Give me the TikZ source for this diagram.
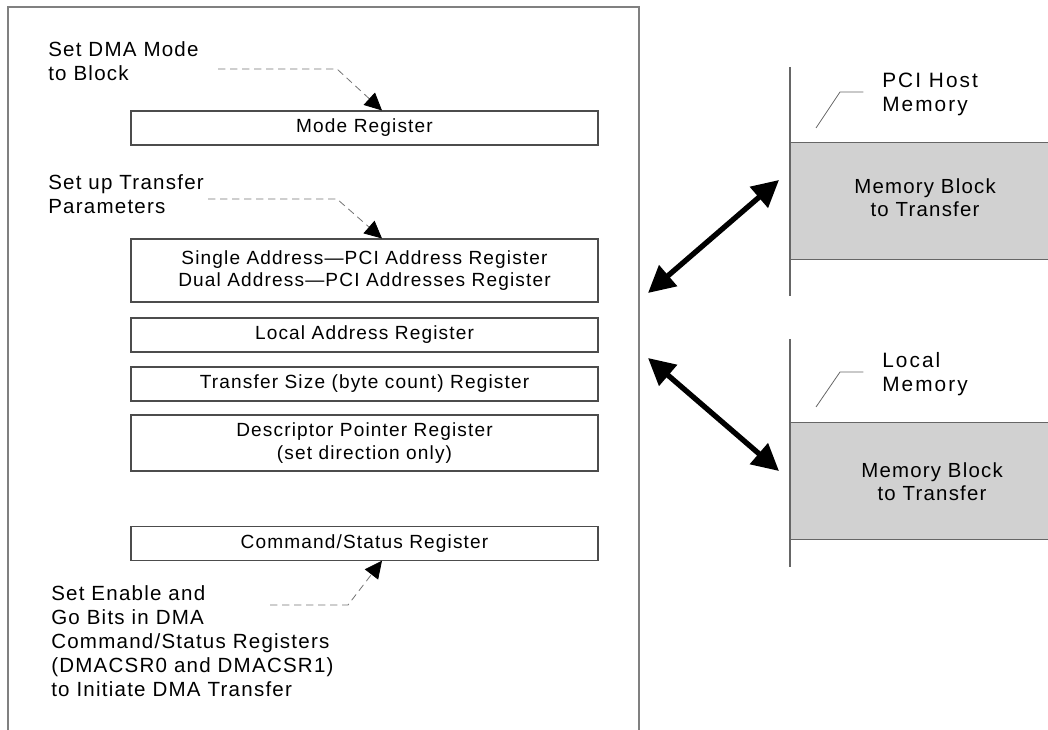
\documentclass[tikz,border=0pt]{standalone}
\usepackage{fontspec}
\setmainfont{Liberation Sans}[LetterSpace=6.0]
\usetikzlibrary{arrows.meta,calc}
\begin{document}
\begin{tikzpicture}[x=0.75pt,y=-0.75pt,
  lbl/.style={font=\fontsize{15.4}{18}\selectfont, inner sep=0pt, align=left, anchor=west},
  memlbl/.style={font=\fontsize{15.6}{18}\selectfont\addfontfeature{LetterSpace=10.0}, inner sep=0pt, align=left, anchor=west},
  regbox/.style={draw=black!70, line width=0.8pt, minimum width=350.25pt, font=\fontsize{14.3}{17}\selectfont, align=center, inner sep=0pt},
  dconn/.style={draw=black!55, dash pattern=on 5.5pt off 3.5pt, line width=0.6pt, -{Triangle[length=13pt,width=12.5pt,black]}},
  bigarrow/.style={line width=4pt, {Triangle[length=20pt,width=20pt]}-{Triangle[length=20pt,width=20pt]}},
  leader/.style={draw=black!60, line width=0.6pt},
  memtext/.style={font=\fontsize{15.3}{17}\selectfont, align=center, inner sep=0pt},
  memblk/.style={fill=black!18, inner sep=0pt, anchor=north west, minimum width=193.5pt, minimum height=87.75pt},
  memedge/.style={draw=black!60, line width=0.7pt},
]
\useasboundingbox (0,0) rectangle (1048,730);
% outer frame
\draw[black!50, line width=1.1pt] (8,730) -- (8,7) -- (639,7) -- (639,730);

% registers
\node[regbox, minimum height=25.5pt] (mode) at (364.5,128) {Mode Register};
\node[regbox, minimum height=47.25pt] (pciaddr) at (364.5,270.5) {Single Address—PCI Address Register\\Dual Address—PCI Addresses Register};
\node[regbox, minimum height=25.5pt] (local) at (364.5,335) {Local Address Register};
\node[regbox, minimum height=25.5pt] (size) at (364.5,384) {Transfer Size (byte count) Register};
\node[regbox, minimum height=42pt] (desc) at (364.5,443) {Descriptor Pointer Register\\(set direction only)};
\node[regbox, minimum height=25pt] (cmd) at (364.5,543.5) {Command/Status Register};

% left labels
\node[lbl] (setmode) at (48,61) {Set DMA Mode\\to Block};
\node[lbl] (setup) at (48,194) {Set up Transfer\\Parameters};
\node[lbl] (setgo) at (51,641.5) {Set Enable and\\Go Bits in DMA\\Command/Status Registers\\(DMACSR0 and DMACSR1)\\to Initiate DMA Transfer};

% dashed connectors
\coordinate (tipx) at (382,0);
\coordinate (d1a) at (218,69);
\coordinate (d1b) at (337,69);
\coordinate (d2a) at (208,199);
\coordinate (d2b) at (337,199);
\coordinate (d3a) at (270,605);
\coordinate (d3b) at (348,605);
\draw[dconn] (d1a) -- (d1b) -- (mode.north -| tipx);
\draw[dconn] (d2a) -- (d2b) -- (pciaddr.north -| tipx);
\draw[dconn] (d3a) -- (d3b) -- (cmd.south -| tipx);

% memory blocks
\node[memblk] (pcimem) at (790,142) {};
\draw[memedge] (pcimem.north west) -- (pcimem.north east) (pcimem.south west) -- (pcimem.south east);
\draw[black!60, line width=0.8pt] (790,67) -- (790,296);
\node[memtext] (pcimemtxt) at (925,197.5) {Memory Block\\to Transfer};

\node[memblk] (locmem) at (790,422) {};
\draw[memedge] (locmem.north west) -- (locmem.north east) (locmem.south west) -- (locmem.south east);
\draw[black!60, line width=0.8pt] (790,339) -- (790,567);
\node[memtext] (locmemtxt) at (932,481.5) {Memory Block\\to Transfer};

% memory labels with leaders
\node[memlbl] (pcihost) at (882,94) {PCI Host\\Memory};
\coordinate (l1a) at (816,128);
\coordinate (l1b) at (840,92);
\draw[leader] (l1a) -- (l1b) -- ([xshift=-14pt]pcihost.west |- l1b);
\node[memlbl] (locallbl) at (882,374.5) {Local\\Memory};
\coordinate (l2a) at (816,407);
\coordinate (l2b) at (840,372);
\draw[leader] (l2a) -- (l2b) -- ([xshift=-14pt]locallbl.west |- l2b);

% transfer arrows
\coordinate (a1l) at (648,293);
\coordinate (a1r) at (779,180);
\coordinate (a2l) at (648,358);
\coordinate (a2r) at (779,471);
\draw[bigarrow] (a1l) -- (a1r);
\draw[bigarrow] (a2l) -- (a2r);
\end{tikzpicture}
\end{document}
